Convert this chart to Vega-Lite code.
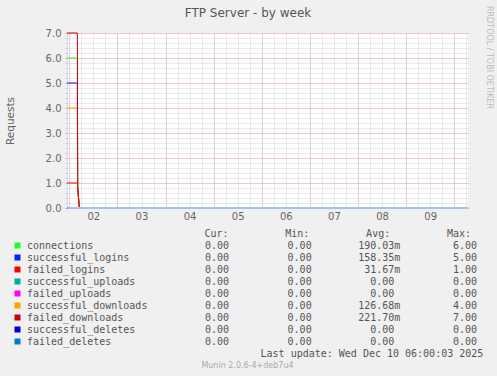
{
  "$schema": "https://vega.github.io/schema/vega-lite/v6.json",
  "width": 401,
  "height": 175,
  "autosize": {"type": "none"},
  "padding": {"left": 67, "top": 33, "right": 29, "bottom": 168},
  "background": "#F0F0F0",
  "config": {"view": {"fill": "#FFFFFF", "stroke": null}},
  "datasets": {
    "lines": [
      {"series": "connections", "t": "2025-12-01T22:50:00Z", "v": 6},
      {"series": "connections", "t": "2025-12-02T04:00:00Z", "v": 6},
      {"series": "connections", "t": "2025-12-02T04:10:00Z", "v": 0.8},
      {"series": "connections", "t": "2025-12-02T05:00:00Z", "v": 0},
      {"series": "connections", "t": "2025-12-10T06:50:00Z", "v": 0},
      {"series": "successful_logins", "t": "2025-12-01T22:50:00Z", "v": 5},
      {"series": "successful_logins", "t": "2025-12-02T04:00:00Z", "v": 5},
      {"series": "successful_logins", "t": "2025-12-02T04:10:00Z", "v": 0.8},
      {"series": "successful_logins", "t": "2025-12-02T05:00:00Z", "v": 0},
      {"series": "successful_logins", "t": "2025-12-10T06:50:00Z", "v": 0},
      {"series": "failed_logins", "t": "2025-12-01T22:50:00Z", "v": 1},
      {"series": "failed_logins", "t": "2025-12-02T04:00:00Z", "v": 1},
      {"series": "failed_logins", "t": "2025-12-02T04:10:00Z", "v": 0.8},
      {"series": "failed_logins", "t": "2025-12-02T05:00:00Z", "v": 0},
      {"series": "failed_logins", "t": "2025-12-10T06:50:00Z", "v": 0},
      {"series": "successful_uploads", "t": "2025-12-01T22:50:00Z", "v": 0},
      {"series": "successful_uploads", "t": "2025-12-10T06:50:00Z", "v": 0},
      {"series": "failed_uploads", "t": "2025-12-01T22:50:00Z", "v": 0},
      {"series": "failed_uploads", "t": "2025-12-10T06:50:00Z", "v": 0},
      {"series": "successful_downloads", "t": "2025-12-01T22:50:00Z", "v": 4},
      {"series": "successful_downloads", "t": "2025-12-02T04:00:00Z", "v": 4},
      {"series": "successful_downloads", "t": "2025-12-02T04:10:00Z", "v": 0.8},
      {"series": "successful_downloads", "t": "2025-12-02T05:00:00Z", "v": 0},
      {"series": "successful_downloads", "t": "2025-12-10T06:50:00Z", "v": 0},
      {"series": "failed_downloads", "t": "2025-12-01T22:50:00Z", "v": 7},
      {"series": "failed_downloads", "t": "2025-12-02T04:00:00Z", "v": 7},
      {"series": "failed_downloads", "t": "2025-12-02T04:10:00Z", "v": 0.8},
      {"series": "failed_downloads", "t": "2025-12-02T05:00:00Z", "v": 0},
      {"series": "failed_downloads", "t": "2025-12-10T06:50:00Z", "v": 0},
      {"series": "successful_deletes", "t": "2025-12-01T22:50:00Z", "v": 0},
      {"series": "successful_deletes", "t": "2025-12-10T06:50:00Z", "v": 0},
      {"series": "failed_deletes", "t": "2025-12-01T22:50:00Z", "v": 0},
      {"series": "failed_deletes", "t": "2025-12-10T06:50:00Z", "v": 0}
    ],
    "table": [
      {"series": "connections", "cur": "0.00", "min": "0.00", "avg": "190.03m", "max": "6.00"},
      {"series": "successful_logins", "cur": "0.00", "min": "0.00", "avg": "158.35m", "max": "5.00"},
      {"series": "failed_logins", "cur": "0.00", "min": "0.00", "avg": "31.67m", "max": "1.00"},
      {"series": "successful_uploads", "cur": "0.00", "min": "0.00", "avg": "0.00", "max": "0.00"},
      {"series": "failed_uploads", "cur": "0.00", "min": "0.00", "avg": "0.00", "max": "0.00"},
      {"series": "successful_downloads", "cur": "0.00", "min": "0.00", "avg": "126.68m", "max": "4.00"},
      {"series": "failed_downloads", "cur": "0.00", "min": "0.00", "avg": "221.70m", "max": "7.00"},
      {"series": "successful_deletes", "cur": "0.00", "min": "0.00", "avg": "0.00", "max": "0.00"},
      {"series": "failed_deletes", "cur": "0.00", "min": "0.00", "avg": "0.00", "max": "0.00"}
    ]
  },
  "resolve": {"scale": {"x": "independent", "y": "independent"}, "axis": {"x": "independent", "y": "independent"}},
  "layer": [
    {
      "resolve": {"axis": {"x": "independent", "y": "independent"}},
      "layer": [
        {
          "data": {"name": "lines"},
          "mark": {"type": "line", "strokeWidth": 1, "interpolate": "linear"},
          "encoding": {
            "x": {"field": "t", "type": "temporal",
              "scale": {"type": "utc", "domain": [1764629400000, 1765349400000]},
              "axis": {"orient": "bottom", "title": null, "labels": false, "ticks": false, "domain": false, "grid": true,
                "gridColor": "#D4D4D4", "gridDash": [1, 1], "gridWidth": 1,
                "values": [1764633600000, 1764655200000, 1764676800000, 1764698400000, 1764720000000, 1764741600000, 1764763200000, 1764784800000, 1764806400000, 1764828000000, 1764849600000, 1764871200000, 1764892800000, 1764914400000, 1764936000000, 1764957600000, 1764979200000, 1765000800000, 1765022400000, 1765044000000, 1765065600000, 1765087200000, 1765108800000, 1765130400000, 1765152000000, 1765173600000, 1765195200000, 1765216800000, 1765238400000, 1765260000000, 1765281600000, 1765303200000, 1765324800000, 1765346400000]}},
            "y": {"field": "v", "type": "quantitative",
              "scale": {"domain": [0, 7], "nice": false},
              "axis": {"orient": "left", "title": null, "labels": false, "domain": false, "ticks": true, "tickSize": 2, "tickColor": "#C8C8C8",
                "grid": true, "gridColor": "#D4D4D4", "gridDash": [1, 1], "tickCount": 35}},
            "color": {"field": "series", "type": "nominal", "sort": null, "legend": null,
              "scale": {"domain": ["connections", "successful_logins", "failed_logins", "successful_uploads", "failed_uploads", "successful_downloads", "failed_downloads", "successful_deletes", "failed_deletes"],
                "range": ["#22FF22", "#0022FF", "#FF0000", "#00AAAA", "#FF00FF", "#FFA500", "#CC0000", "#0000CC", "#0080C0"]}}
          }
        },
        {
          "mark": {"type": "point", "shape": "triangle-up", "filled": true, "size": 30, "color": "#CFD6F8", "opacity": 1},
          "encoding": {
            "x": {"datum": 1764629400000, "type": "temporal",
              "scale": {"type": "utc", "domain": [1764629400000, 1765349400000]},
              "axis": {"orient": "bottom", "title": null, "ticks": false, "domain": false,
                "grid": true, "gridColor": "#F2A8A8", "gridDash": [1, 1],
                "values": [1764633600000, 1764720000000, 1764806400000, 1764892800000, 1764979200000, 1765065600000, 1765152000000, 1765238400000, 1765324800000],
                "labelExpr": "utcFormat(datum.value, '%d') == '10' ? '' : utcFormat(datum.value, '%d')",
                "labelOffset": 24, "labelPadding": 3, "labelFont": "DejaVu Sans", "labelFontSize": 10, "labelColor": "#666666"}},
            "y": {"datum": 7.18, "type": "quantitative",
              "scale": {"domain": [0, 7], "nice": false},
              "axis": {"orient": "left", "values": [0, 1, 2, 3, 4, 5, 6, 7], "format": ".1f", "ticks": true, "tickSize": 2, "tickColor": "#F2A8A8",
                "domain": true, "domainColor": "#CFD6F8",
                "grid": true, "gridColor": "#F2A8A8", "gridDash": [1, 1],
                "labelPadding": 4, "labelFont": "DejaVu Sans", "labelFontSize": 10, "labelColor": "#666666",
                "title": "Requests", "titleFont": "DejaVu Sans", "titleFontSize": 10.5, "titleFontWeight": "normal", "titleColor": "#666666",
                "titleAngle": 270, "titleBaseline": "alphabetic", "titleAlign": "center", "titleX": -54, "titleY": 87.5}}
          }
        },
        {
          "mark": {"type": "point", "shape": "triangle-right", "filled": true, "size": 30, "color": "#CFD6F8", "opacity": 1},
          "encoding": {
            "x": {"datum": 1765355700000, "type": "temporal", "scale": {"type": "utc", "domain": [1764629400000, 1765349400000]},
              "axis": {"orient": "bottom", "title": null, "labels": false, "ticks": false, "grid": false,
                "domain": true, "domainColor": "#A6C2EE", "domainWidth": 2, "offset": -0.5, "zindex": 1}},
            "y": {"datum": 0, "type": "quantitative", "scale": {"domain": [0, 7], "nice": false}, "axis": null}
          }
        }
      ]
    },
    {
      "resolve": {"scale": {"x": "independent", "y": "independent"}, "axis": {"x": "independent", "y": "independent"}},
      "layer": [
        {
          "data": {"values": [{"label": "FTP Server - by week"}]},
          "mark": {"type": "text", "font": "DejaVu Sans", "fontSize": 12, "color": "#555555", "align": "center", "baseline": "alphabetic"},
          "encoding": {
            "text": {"field": "label"},
            "x": {"datum": "title", "type": "nominal", "scale": {"type": "point", "domain": ["title"], "range": [181, 181]}, "axis": null},
            "y": {"datum": "title", "type": "nominal", "scale": {"type": "point", "domain": ["title"], "range": [-16.5, -16.5]}, "axis": null}
          }
        },
        {
          "data": {"values": [{"label": "RRDTOOL / TOBI OETIKER"}]},
          "mark": {"type": "text", "font": "DejaVu Sans", "fontSize": 8, "color": "#BBBBBB", "align": "center", "baseline": "middle", "angle": 90},
          "encoding": {
            "text": {"field": "label"},
            "x": {"datum": "wm", "type": "nominal", "scale": {"type": "point", "domain": ["wm"], "range": [421.5, 421.5]}, "axis": null},
            "y": {"datum": "wm", "type": "nominal", "scale": {"type": "point", "domain": ["wm"], "range": [24.5, 24.5]}, "axis": null}
          }
        },
        {
          "data": {"values": [{"stat": "cur", "label": "Cur:"}, {"stat": "min", "label": "Min:"}, {"stat": "avg", "label": "Avg:"}, {"stat": "max", "label": "Max:"}]},
          "mark": {"type": "text", "font": "DejaVu Sans Mono", "fontSize": 10, "color": "#555555", "align": "center", "baseline": "alphabetic"},
          "encoding": {
            "text": {"field": "label"},
            "x": {"field": "stat", "type": "nominal", "sort": null, "scale": {"type": "point", "domain": ["cur", "min", "avg", "max"], "range": [149.5, 392], "padding": 0}, "axis": null},
            "y": {"datum": "hdr", "type": "nominal", "scale": {"type": "point", "domain": ["hdr"], "range": [204, 204]}, "axis": null}
          }
        },
        {
          "data": {"name": "table"},
          "mark": {"type": "point", "shape": "square", "filled": true, "size": 36, "opacity": 1, "strokeWidth": 0},
          "encoding": {
            "x": {"datum": "box", "type": "nominal", "scale": {"type": "point", "domain": ["box"], "range": [-49.5, -49.5]}, "axis": null},
            "y": {"field": "series", "type": "nominal", "sort": null,
              "scale": {"type": "point", "domain": ["connections", "successful_logins", "failed_logins", "successful_uploads", "failed_uploads", "successful_downloads", "failed_downloads", "successful_deletes", "failed_deletes"], "range": [212.5, 308.5], "padding": 0}, "axis": null},
            "color": {"field": "series", "type": "nominal", "sort": null, "legend": null,
              "scale": {"domain": ["connections", "successful_logins", "failed_logins", "successful_uploads", "failed_uploads", "successful_downloads", "failed_downloads", "successful_deletes", "failed_deletes"],
                "range": ["#22FF22", "#0022FF", "#FF0000", "#00AAAA", "#FF00FF", "#FFA500", "#CC0000", "#0000CC", "#0080C0"]}}
          }
        },
        {
          "data": {"name": "table"},
          "mark": {"type": "text", "font": "DejaVu Sans Mono", "fontSize": 10, "color": "#555555", "align": "left", "baseline": "alphabetic"},
          "encoding": {
            "text": {"field": "series"},
            "x": {"datum": "label", "type": "nominal", "scale": {"type": "point", "domain": ["label"], "range": [-40, -40]}, "axis": null},
            "y": {"field": "series", "type": "nominal", "sort": null,
              "scale": {"type": "point", "domain": ["connections", "successful_logins", "failed_logins", "successful_uploads", "failed_uploads", "successful_downloads", "failed_downloads", "successful_deletes", "failed_deletes"], "range": [216, 312], "padding": 0}, "axis": null}
          }
        },
        {
          "data": {"name": "table"},
          "transform": [{"fold": ["cur", "min", "avg", "max"], "as": ["stat", "val"]}, {"filter": "!test(/m$/, datum.val)"}],
          "mark": {"type": "text", "font": "DejaVu Sans Mono", "fontSize": 10, "color": "#555555", "align": "right", "baseline": "alphabetic", "dx": -6},
          "encoding": {
            "text": {"field": "val"},
            "x": {"field": "stat", "type": "nominal", "sort": null, "scale": {"type": "point", "domain": ["cur", "min", "avg", "max"], "range": [168, 416], "padding": 0}, "axis": null},
            "y": {"field": "series", "type": "nominal", "sort": null,
              "scale": {"type": "point", "domain": ["connections", "successful_logins", "failed_logins", "successful_uploads", "failed_uploads", "successful_downloads", "failed_downloads", "successful_deletes", "failed_deletes"], "range": [216, 312], "padding": 0}, "axis": null}
          }
        },
        {
          "data": {"name": "table"},
          "transform": [{"fold": ["cur", "min", "avg", "max"], "as": ["stat", "val"]}, {"filter": "test(/m$/, datum.val)"}],
          "mark": {"type": "text", "font": "DejaVu Sans Mono", "fontSize": 10, "color": "#555555", "align": "right", "baseline": "alphabetic"},
          "encoding": {
            "text": {"field": "val"},
            "x": {"field": "stat", "type": "nominal", "sort": null, "scale": {"type": "point", "domain": ["cur", "min", "avg", "max"], "range": [168, 416], "padding": 0}, "axis": null},
            "y": {"field": "series", "type": "nominal", "sort": null,
              "scale": {"type": "point", "domain": ["connections", "successful_logins", "failed_logins", "successful_uploads", "failed_uploads", "successful_downloads", "failed_downloads", "successful_deletes", "failed_deletes"], "range": [216, 312], "padding": 0}, "axis": null}
          }
        },
        {
          "data": {"values": [{"label": "Last update: Wed Dec 10 06:00:03 2025"}]},
          "mark": {"type": "text", "font": "DejaVu Sans Mono", "fontSize": 10, "color": "#555555", "align": "right", "baseline": "alphabetic"},
          "encoding": {
            "text": {"field": "label"},
            "x": {"datum": "upd", "type": "nominal", "scale": {"type": "point", "domain": ["upd"], "range": [416.3, 416.3]}, "axis": null},
            "y": {"datum": "upd", "type": "nominal", "scale": {"type": "point", "domain": ["upd"], "range": [324, 324]}, "axis": null}
          }
        },
        {
          "data": {"values": [{"label": "Munin 2.0.6-4+deb7u4"}]},
          "mark": {"type": "text", "font": "DejaVu Sans", "fontSize": 8, "color": "#AAAAAA", "align": "center", "baseline": "alphabetic"},
          "encoding": {
            "text": {"field": "label"},
            "x": {"datum": "mun", "type": "nominal", "scale": {"type": "point", "domain": ["mun"], "range": [180.5, 180.5]}, "axis": null},
            "y": {"datum": "mun", "type": "nominal", "scale": {"type": "point", "domain": ["mun"], "range": [335, 335]}, "axis": null}
          }
        }
      ]
    }
  ]
}
